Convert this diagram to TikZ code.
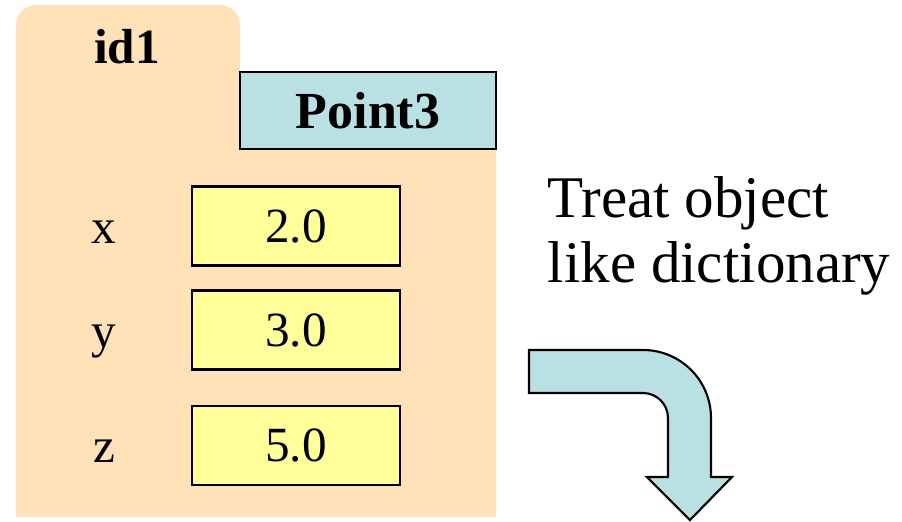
\documentclass[tikz,border=0pt]{standalone}
\usepackage{fontspec}
\setmainfont{Liberation Serif}

\begin{document}
\begin{tikzpicture}[
    valbox/.style={draw=black, fill=valyellow, line width=0.7pt, minimum width=2.08cm, minimum height=0.79cm, inner sep=0pt, font=\fontsize{14}{17}\selectfont},
    varname/.style={anchor=base, inner sep=0pt, font=\fontsize{14}{17}\selectfont},
    note/.style={anchor=base west, inner sep=0pt, font=\fontsize{16.8}{20}\selectfont}
  ]
  \definecolor{folder}{RGB}{255,226,183}
  \definecolor{clsblue}{RGB}{185,224,227}
  \definecolor{valyellow}{RGB}{255,255,153}
  \useasboundingbox (0, 0) rectangle (9.02, 5.21);
  % folder with tab
  \fill [folder] (0.16, 0.04) -- (0.16, 4.96) arc (180:90:0.2) -- (2.2, 5.16) arc (90:0:0.2)
    -- (2.4, 4.49) -- (4.96, 4.49) -- (4.96, 0.04) -- cycle;
  \node [inner sep=0pt, font=\fontsize{14}{17}\selectfont\bfseries, anchor=base] (id) at (1.27, 4.58) {id1};
  \node [draw=black, fill=clsblue, line width=0.7pt, minimum width=2.56cm, minimum height=0.77cm, inner sep=0pt,
    font=\fontsize{14.8}{17}\selectfont\bfseries] (cls) at (3.68, 4.105) {Point3};
  % fields
  \node [varname] (xname) at (1.04, 2.78) {x};
  \node [valbox] (xval) at (2.96, 2.95) {2.0};
  \node [varname] (yname) at (1.04, 1.74) {y};
  \node [valbox] (yval) at (2.96, 1.91) {3.0};
  \node [varname] (zname) at (1.04, 0.59) {z};
  \node [valbox] (zval) at (2.96, 0.755) {5.0};
  % note and bent arrow
  \node [note] (note1) at (5.47, 3.04) {Treat object};
  \node [note] (note2) at (5.47, 2.39) {like dictionary};
  \draw [black, fill=clsblue, line width=0.6pt, line join=miter] (5.29, 1.71) -- (6.43, 1.71) arc (90:0:0.68)
    -- (7.11, 0.44) -- (7.32, 0.44) -- (6.9, 0.01) -- (6.47, 0.44) -- (6.68, 0.44)
    -- (6.68, 1.03) arc (0:90:0.25) -- (5.29, 1.28) -- cycle;
\end{tikzpicture}
\end{document}
